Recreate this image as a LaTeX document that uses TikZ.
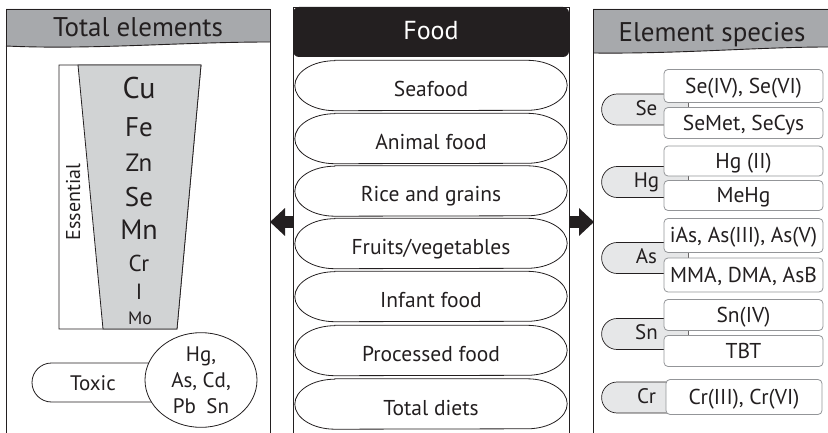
\documentclass[tikz,border=0pt]{standalone}
\usepackage{fontspec}
\setmainfont{PT Sans}
\usetikzlibrary{arrows.meta,shapes.misc,shapes.geometric}
\definecolor{ink}{HTML}{231F20}
\definecolor{hdrgray}{HTML}{A7A9AC}
\definecolor{trapgray}{HTML}{D1D3D4}
\definecolor{pillgray}{HTML}{E6E7E8}
\definecolor{boxline}{HTML}{939598}
\newcommand\fsz[1]{\fontsize{#1}{#1}\selectfont}
\newcommand\foodoutline[1]{%
  \draw[foodline] ([xshift=40pt]#1.north west) -- ([xshift=-40pt]#1.north east)
    arc[start angle=90,end angle=-90,x radius=40pt,y radius=25pt]
    -- ([xshift=40pt]#1.south west)
    arc[start angle=270,end angle=90,x radius=40pt,y radius=25pt] -- cycle;}
\begin{document}
\begin{tikzpicture}[x=1pt,y=-1pt,
  frame/.style={draw=ink,line width=0.9pt},
  foodline/.style={draw=ink,line width=0.8pt},
  lbl/.style={inner sep=0pt,text=ink},
  hdrtext/.style={lbl,font=\fsz{27},text height=18.9pt,text depth=0pt},
  fooditem/.style={lbl,font=\fsz{21.5},minimum width=272pt,minimum height=50pt,text height=22pt,text depth=0pt},
  elem/.style={lbl,anchor=base},
  pill/.style={rounded rectangle,rounded rectangle right arc=none,draw=ink,line width=0.7pt,fill=pillgray,
    minimum width=87pt,minimum height=31pt,inner sep=0pt,text=ink,font=\fsz{21},text height=14.7pt,text depth=3pt},
  species/.style={draw=boxline,line width=0.8pt,fill=white,rounded corners=4pt,minimum width=159pt,
    inner sep=0pt,text=ink,font=\fsz{21.5},text height=15pt,text depth=0pt},
  bigarrow/.style={draw=ink,line width=12pt,-{Triangle[length=15pt,width=27pt]}}
]
\useasboundingbox (0,0) rectangle (828,433);

% ---------- left panel ----------
\fill[hdrgray] (6,9) -- (270,9) -- (270,42) .. controls (180,42) and (90,50) .. (6,46) -- cycle;
\draw[frame] (6,46) .. controls (90,50) and (180,42) .. (270,42);
\draw[frame] (6,433) -- (6,9) -- (270,9) -- (270,433);
\node[hdrtext] (th) at (138,27) {Total elements};

% trapezoid
\draw[ink,line width=0.8pt,fill=white] (59,65) -- (201,65) -- (177,329) -- (59,329) -- cycle;
\draw[ink,line width=0.8pt,fill=trapgray] (78,65) -- (201,65) -- (177,329) -- (103,329) -- cycle;
\node[lbl,rotate=90,font=\fsz{20},text height=14pt,text depth=0pt] (ess) at (73,202) {Essential};
\node[elem,font=\fsz{30}] (cu) at (139,99) {Cu};
\node[elem,font=\fsz{27}] (fe) at (139,137) {Fe};
\node[elem,font=\fsz{25}] (zn) at (139,172) {Zn};
\node[elem,font=\fsz{27}] (se0) at (139,207) {Se};
\node[elem,font=\fsz{28}] (mn) at (139,240) {Mn};
\node[elem,font=\fsz{23}] (cr0) at (139,271) {Cr};
\node[elem,font=\fsz{22}] (i0) at (139,299) {I};
\node[elem,font=\fsz{18}] (mo) at (140,324) {Mo};

% toxic
\node[rounded rectangle,rounded rectangle right arc=none,draw=ink,line width=0.8pt,fill=white,
  minimum width=153pt,minimum height=39pt,inner sep=0pt] (toxpill) at (108.5,382.5) {};
\node[lbl,font=\fsz{21},text height=14.7pt,text depth=0pt] (toxic) at (93,383) {Toxic};
\node[ellipse,draw=ink,line width=0.8pt,fill=white,minimum width=112pt,minimum height=94pt,inner sep=0pt,
  text=ink,align=center,font=\fontsize{21}{26}\selectfont] (toxel) at (201,380)
  {Hg,\\As, Cd,\\Pb\enspace Sn};

% ---------- center panel ----------
\draw[frame] (293,433) -- (293,7) -- (569,7) -- (569,433);
\node[fill=ink,rounded corners=6pt,minimum width=276pt,minimum height=50pt,inner sep=0pt,
  text=white,font=\fsz{26},text height=18.2pt,text depth=3pt] (food) at (431,32) {Food};
\node[fooditem] (f1) at (431,85.5) {Seafood};
\node[fooditem] (f2) at (431,138.5) {Animal food};
\node[fooditem] (f3) at (431,191) {Rice and grains};
\node[fooditem] (f4) at (431,243.5) {Fruits/vegetables};
\node[fooditem] (f5) at (431,296.5) {Infant food};
\node[fooditem] (f6) at (431,350.5) {Processed food};
\node[fooditem] (f7) at (431,404) {Total diets};
\foodoutline{f1}\foodoutline{f2}\foodoutline{f3}\foodoutline{f4}\foodoutline{f5}\foodoutline{f6}\foodoutline{f7}

% arrows
\coordinate (la1) at (293,222);
\coordinate (la2) at (270,222);
\coordinate (ra1) at (569,222);
\coordinate (ra2) at (594,222);
\draw[bigarrow] (la1) -- (la2);
\draw[bigarrow] (ra1) -- (ra2);

% ---------- right panel ----------
\fill[hdrgray] (593,9) -- (828,9) -- (828,47) .. controls (760,47) and (680,54) .. (593,53) -- cycle;
\draw[frame] (593,53) .. controls (680,54) and (760,47) .. (828,47);
\draw[frame] (593,433) -- (593,9) -- (828,9);
\node[hdrtext] (es) at (712,32) {Element species};

\node[pill] (pse) at (646.5,109.5) {Se};
\node[pill] (phg) at (646.5,182) {Hg};
\node[pill] (pas) at (646.5,258) {As};
\node[pill] (psn) at (646.5,334) {Sn};
\node[pill] (pcr) at (646.5,397.5) {Cr};

\node[species,minimum height=33pt] (se1) at (743.5,86) {Se(IV), Se(VI)};
\node[species,minimum height=31pt] (se2) at (743.5,123) {SeMet, SeCys};
\node[species,minimum height=30pt] (hg1) at (743.5,161) {Hg (II)};
\node[species,minimum height=30pt] (hg2) at (743.5,195.5) {MeHg};
\node[species,minimum height=34pt] (as1) at (743.5,235.5) {iAs, As(III), As(V)};
\node[species,minimum height=34pt] (as2) at (743.5,275) {MMA, DMA, AsB};
\node[species,minimum height=31pt] (sn1) at (743.5,315) {Sn(IV)};
\node[species,minimum height=31pt] (sn2) at (743.5,351) {TBT};
\node[species,minimum height=35pt,minimum width=156pt] (cr1) at (744,397) {Cr(III), Cr(VI)};
\end{tikzpicture}
\end{document}
